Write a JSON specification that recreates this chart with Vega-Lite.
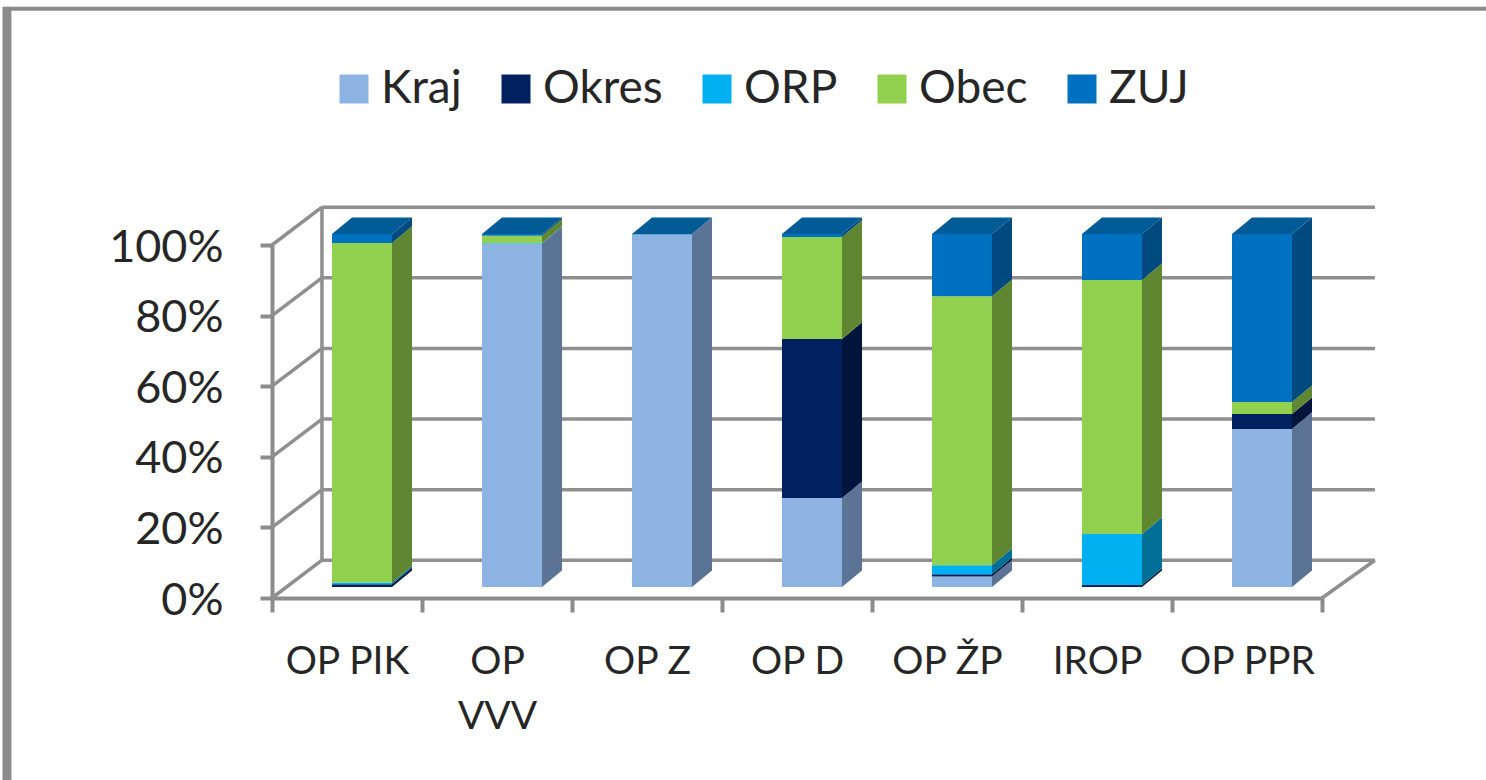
{
"$schema":"https://vega.github.io/schema/vega-lite/v6.json",
"autosize":"none",
"padding":{"left":272,"top":245,"right":164,"bottom":182},
"width":1050,"height":353,
"background":"white",
"config":{"view":{"stroke":null},"font":"Lato"},
"datasets":{
 "ticks":[{"tick":0},{"tick":20},{"tick":40},{"tick":60},{"tick":80},{"tick":100}],
 "segments":[
 {"cat":"OP PIK","series":"Kraj","value":0},{"cat":"OP PIK","series":"Okres","value":0.8},{"cat":"OP PIK","series":"ORP","value":0.5},{"cat":"OP PIK","series":"Obec","value":96.2},{"cat":"OP PIK","series":"ZUJ","value":2.5},
 {"cat":"OP VVV","series":"Kraj","value":97.3},{"cat":"OP VVV","series":"Okres","value":0},{"cat":"OP VVV","series":"ORP","value":0.2},{"cat":"OP VVV","series":"Obec","value":2},{"cat":"OP VVV","series":"ZUJ","value":0.5},
 {"cat":"OP Z","series":"Kraj","value":99.9},{"cat":"OP Z","series":"Okres","value":0},{"cat":"OP Z","series":"ORP","value":0},{"cat":"OP Z","series":"Obec","value":0},{"cat":"OP Z","series":"ZUJ","value":0.1},
 {"cat":"OP D","series":"Kraj","value":25.2},{"cat":"OP D","series":"Okres","value":45.1},{"cat":"OP D","series":"ORP","value":0},{"cat":"OP D","series":"Obec","value":28.9},{"cat":"OP D","series":"ZUJ","value":0.8},
 {"cat":"OP ŽP","series":"Kraj","value":3},{"cat":"OP ŽP","series":"Okres","value":0.6},{"cat":"OP ŽP","series":"ORP","value":2.6},{"cat":"OP ŽP","series":"Obec","value":76.2},{"cat":"OP ŽP","series":"ZUJ","value":17.6},
 {"cat":"IROP","series":"Kraj","value":0},{"cat":"IROP","series":"Okres","value":0.6},{"cat":"IROP","series":"ORP","value":14.4},{"cat":"IROP","series":"Obec","value":72},{"cat":"IROP","series":"ZUJ","value":13},
 {"cat":"OP PPR","series":"Kraj","value":44.8},{"cat":"OP PPR","series":"Okres","value":4.2},{"cat":"OP PPR","series":"ORP","value":0},{"cat":"OP PPR","series":"Obec","value":3.4},{"cat":"OP PPR","series":"ZUJ","value":47.6}
 ]
},
"data":{"name":"segments"},
"transform":[
 {"calculate":"indexof(['Kraj','Okres','ORP','Obec','ZUJ'],datum.series)","as":"rank"},
 {"calculate":"indexof(['OP PIK','OP VVV','OP Z','OP D','OP ŽP','IROP','OP PPR'],datum.cat)","as":"idx"},
 {"stack":"value","groupby":["cat"],"sort":[{"field":"rank","order":"ascending"}],"as":["v0","v1"]},
 {"calculate":"[0,1]","as":"d"},
 {"flatten":["d"]},
 {"calculate":"datum.idx+0.4+datum.d*0.1333","as":"left"},
 {"calculate":"datum.idx+0.8+datum.d*0.1333","as":"right"},
 {"calculate":"datum.v0+3.1+datum.d*4.7","as":"low"},
 {"calculate":"datum.v1+3.1+datum.d*4.7","as":"high"}
],
"layer":[
 {"transform":[{"filter":"datum.d==0 && datum.value>0"}],
  "mark":{"type":"rect","opacity":0},
  "encoding":{
   "x":{"field":"left","type":"quantitative","title":null,
    "scale":{"domain":[0,7],"nice":false,"zero":false},
    "axis":{"values":[0,1,2,3,4,5,6,7],"grid":false,"labelOffset":75,"labelFlush":false,"labelOverlap":false,"labelFontSize":39,"labelFont":"Lato","labelColor":"#262626","labelPadding":30,"labelLineHeight":55,"labelBaseline":"top","labelAngle":0,
     "labelExpr":"['OP PIK',['OP','VVV'],'OP Z','OP D','OP ŽP','IROP','OP PPR',''][datum.value]",
     "tickSize":14,"tickWidth":4,"tickColor":"#8c8c8c","domainColor":"#8c8c8c","domainWidth":4}},
   "x2":{"field":"right"},
   "y":{"field":"low","type":"quantitative","title":null,
    "scale":{"domain":[0,100],"nice":false},
    "axis":{"values":[0,20,40,60,80,100],"grid":false,"labelExpr":"datum.value+'%'","labelFontSize":45,"labelFont":"Lato","labelColor":"#262626","labelPadding":37,"labelOffset":2,"tickSize":12,"tickWidth":4,"tickColor":"#8c8c8c","domainColor":"#8c8c8c","domainWidth":4}},
   "y2":{"field":"high"},
   "color":{"field":"series","type":"nominal",
    "scale":{"domain":["Kraj","Okres","ORP","Obec","ZUJ"],"range":["#8db3e2","#002060","#00b0f0","#92d050","#0070c0"]},
    "legend":{"orient":"none","legendX":59,"legendY":-179,"direction":"horizontal","columns":5,"title":null,"symbolType":"square","symbolSize":841,"symbolStrokeWidth":0,"labelFontSize":46,"labelFont":"Lato","labelColor":"#262626","labelOffset":4,"columnPadding":31,"symbolOpacity":1}}
  }},
 {"data":{"name":"ticks"},"transform":[{"calculate":"datum.tick+10.7","as":"back"}],
  "mark":{"type":"rule","color":"#8f8f8f","strokeWidth":3.5},
  "encoding":{
   "x":{"datum":0.333,"type":"quantitative","title":null},
   "x2":{"datum":7.353},
   "y":{"field":"back","type":"quantitative","title":null},
   "y2":{"field":"back"}
  }},
 {"data":{"name":"ticks"},"transform":[{"calculate":"datum.tick+10.7","as":"back"}],
  "mark":{"type":"rule","color":"#8f8f8f","strokeWidth":3.5},
  "encoding":{
   "x":{"datum":0,"type":"quantitative","title":null},
   "x2":{"datum":0.333},
   "y":{"field":"tick","type":"quantitative","title":null},
   "y2":{"field":"back"}
  }},
 {"data":{"name":"ticks"},"transform":[{"filter":"datum.tick==0"},{"calculate":"datum.tick+10.7","as":"back"}],
  "mark":{"type":"rule","color":"#8f8f8f","strokeWidth":3.5},
  "encoding":{
   "x":{"datum":7,"type":"quantitative","title":null},
   "x2":{"datum":7.353},
   "y":{"field":"tick","type":"quantitative","title":null},
   "y2":{"field":"back"}
  }},
 {"data":{"name":"ticks"},"transform":[{"filter":"datum.tick==0"}],
  "mark":{"type":"rule","color":"#8f8f8f","strokeWidth":3.5},
  "encoding":{
   "x":{"datum":0.333,"type":"quantitative","title":null},
   "y":{"datum":10.7,"type":"quantitative","title":null},
   "y2":{"datum":110.7}
  }},
 {"data":{"name":"ticks"},"transform":[{"filter":"datum.tick==0"}],
  "mark":{"type":"rule","color":"#8c8c8c","strokeWidth":4},
  "encoding":{
   "x":{"datum":-1.767,"type":"quantitative","title":null},
   "x2":{"datum":8.1},
   "y":{"datum":166.9,"type":"quantitative","title":null},
   "y2":{"datum":166.9}
  }},
 {"data":{"name":"ticks"},"transform":[{"filter":"datum.tick==0"}],
  "mark":{"type":"rule","color":"#8c8c8c","strokeWidth":9},
  "encoding":{
   "x":{"datum":-1.767,"type":"quantitative","title":null},
   "y":{"datum":167.5,"type":"quantitative","title":null},
   "y2":{"datum":-52}
  }},
 {"transform":[{"filter":"datum.value>0"},{"calculate":"datum.idx+'|'+datum.rank","as":"key"}],
  "mark":{"type":"area","orient":"vertical"},
  "encoding":{
   "x":{"field":"right","type":"quantitative","title":null},
   "y":{"field":"low","type":"quantitative","stack":null,"title":null},
   "y2":{"field":"high"},
   "detail":{"field":"key"},
   "fill":{"field":"series","type":"nominal","legend":null,
    "scale":{"domain":["Kraj","Okres","ORP","Obec","ZUJ"],"range":["#5b7394","#00143c","#006f98","#5f8731","#004a80"]}}
  }},
 {"transform":[{"filter":"datum.series=='ZUJ'"},{"calculate":"datum.idx","as":"key"}],
  "mark":{"type":"area","orient":"horizontal","fill":"#005b96"},
  "encoding":{
   "y":{"field":"high","type":"quantitative","title":null},
   "x":{"field":"left","type":"quantitative","stack":null,"title":null},
   "x2":{"field":"right"},
   "detail":{"field":"key"}
  }},
 {"transform":[{"filter":"datum.d==0 && datum.value>0"}],
  "mark":{"type":"rect"},
  "encoding":{
   "x":{"field":"left","type":"quantitative","title":null},
   "x2":{"field":"right"},
   "y":{"field":"low","type":"quantitative","title":null},
   "y2":{"field":"high"},
   "color":{"field":"series","type":"nominal","legend":null}
  }}
]
}
